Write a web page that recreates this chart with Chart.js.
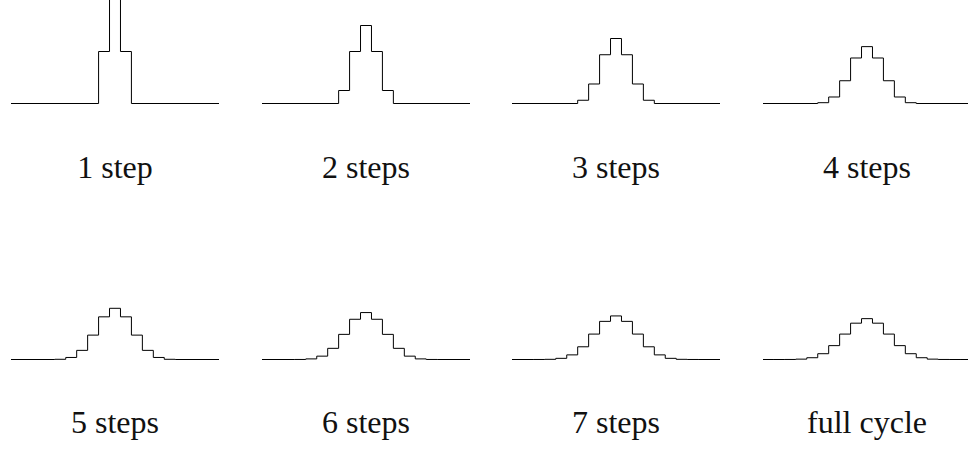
<!DOCTYPE html>
<html>
<head>
<meta charset="utf-8">
<script src="https://cdn.jsdelivr.net/npm/chart.js@4/dist/chart.umd.min.js"></script>
<style>
  html, body { margin: 0; padding: 0; background: #fff; overflow: hidden; }
  #stage { position: relative; width: 968px; height: 450px; overflow: hidden; }
  .panel { position: absolute; }
  .label {
    position: absolute; width: 208px; text-align: center;
    font-family: "Liberation Serif", "DejaVu Serif", serif;
    font-size: 32px; line-height: 32px; color: #111; white-space: nowrap;
  }
</style>
</head>
<body>
<div id="stage"></div>
<script>
// Panel captions
const captions = ["1 step", "2 steps", "3 steps", "4 steps",
                  "5 steps", "6 steps", "7 steps", "full cycle"];

// Bin heights after each smoothing pass (bins centred on 0, unit width)
const step1 = [0.25, 0.5, 0.25];
const step2 = [0.0625, 0.25, 0.375, 0.25, 0.0625];
const step3 = [0.0156, 0.0938, 0.2344, 0.3125, 0.2344, 0.0938, 0.0156];
const step4 = [0.0039, 0.0313, 0.1094, 0.2188, 0.2734, 0.2188, 0.1094, 0.0313, 0.0039];
const step5 = [0.0010, 0.0098, 0.0439, 0.1172, 0.2051, 0.2461, 0.2051, 0.1172, 0.0439, 0.0098, 0.0010];
const step6 = [0.0002, 0.0029, 0.0161, 0.0537, 0.1208, 0.1934, 0.2256, 0.1934, 0.1208, 0.0537, 0.0161, 0.0029, 0.0002];
const step7 = [0.0001, 0.0009, 0.0056, 0.0222, 0.0611, 0.1222, 0.1833, 0.2095, 0.1833, 0.1222, 0.0611, 0.0222, 0.0056, 0.0009, 0.0001];
const fullCycle = [0.0000, 0.0002, 0.0018, 0.0085, 0.0278, 0.0667, 0.1222, 0.1746, 0.1964, 0.1746, 0.1222, 0.0667, 0.0278, 0.0085, 0.0018, 0.0002, 0.0000];

const series = [step1, step2, step3, step4, step5, step6, step7, fullCycle];

// Horizontal extent of every panel, in bin widths
const xMin = -9.5, xMax = 9.5;

// Layout of the 4 x 2 grid
const colLeft = [11, 262, 512, 763];
const rowTop = [0, 256];
const panelW = 208, panelH = 120;
const baselinePx = 103.5;   // pixel row of y = 0 inside a panel
const pxPerUnit = 208;      // vertical scale shared by all panels
const labelTop = [151, 406];

// Turn a list of bin heights into the corner points of a step outline
function stepPoints(vals) {
  const half = (vals.length - 1) / 2;
  const pts = [{ x: xMin, y: 0 }];
  vals.forEach((v, i) => pts.push({ x: i - half - 0.5, y: v }));
  pts.push({ x: half + 0.5, y: 0 });
  pts.push({ x: xMax, y: 0 });
  return pts;
}

const stage = document.getElementById('stage');

series.forEach((vals, k) => {
  const col = k % 4, row = Math.floor(k / 4);
  const left = colLeft[col], top = rowTop[row];

  const canvas = document.createElement('canvas');
  canvas.className = 'panel';
  canvas.width = panelW; canvas.height = panelH;
  canvas.style.left = left + 'px';
  canvas.style.top = top + 'px';
  canvas.style.width = panelW + 'px';
  canvas.style.height = panelH + 'px';
  stage.appendChild(canvas);

  const label = document.createElement('div');
  label.className = 'label';
  label.style.left = left + 'px';
  label.style.top = labelTop[row] + 'px';
  label.textContent = captions[k];
  stage.appendChild(label);

  new Chart(canvas, {
    type: 'line',
    data: {
      datasets: [{
        data: stepPoints(vals),
        stepped: true,
        borderColor: '#000',
        borderWidth: 1,
        pointRadius: 0,
        fill: false,
        tension: 0
      }]
    },
    options: {
      responsive: false,
      animation: false,
      devicePixelRatio: 1,
      layout: { padding: 0 },
      plugins: { legend: { display: false }, tooltip: { enabled: false }, title: { display: false } },
      scales: {
        x: { type: 'linear', min: xMin, max: xMax, display: false },
        y: { type: 'linear', min: -(panelH - baselinePx) / pxPerUnit, max: baselinePx / pxPerUnit, display: false }
      }
    }
  });
});
</script>
</body>
</html>
